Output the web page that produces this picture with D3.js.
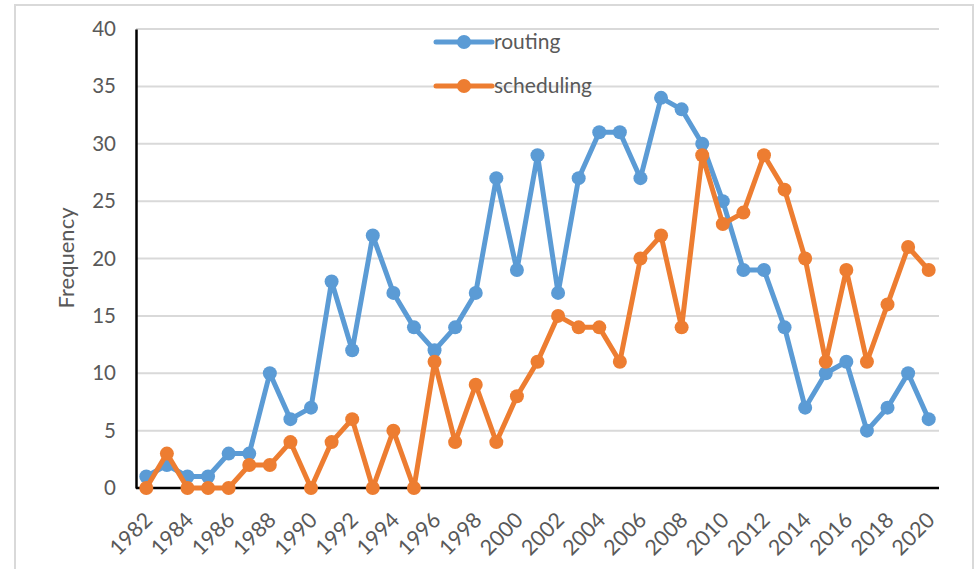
<!DOCTYPE html>
<html>
<head>
<meta charset="utf-8">
<script src="https://cdn.jsdelivr.net/npm/d3@7"></script>
<style>
  html, body { margin: 0; padding: 0; background: #fff; }
  svg { display: block; }
  text { font-family: Lato, "Open Sans", sans-serif; fill: #595959; }
</style>
</head>
<body>
<svg id="chart" width="975" height="569"></svg>
<script>
// Publications per year on routing and scheduling topics
const years = d3.range(1982, 2021);
const routing = [1, 2, 1, 1, 3, 3, 10, 6, 7, 18, 12, 22, 17, 14, 12, 14, 17, 27, 19, 29,
                 17, 27, 31, 31, 27, 34, 33, 30, 25, 19, 19, 14, 7, 10, 11, 5, 7, 10, 6];
const scheduling = [0, 3, 0, 0, 0, 2, 2, 4, 0, 4, 6, 0, 5, 0, 11, 4, 9, 4, 8, 11,
                    15, 14, 14, 11, 20, 22, 14, 29, 23, 24, 29, 26, 20, 11, 19, 11, 16, 21, 19];
const seriesNames = ["routing", "scheduling"];
const yTicks = [0, 5, 10, 15, 20, 25, 30, 35, 40];
const xTickYears = years.filter(y => (y - 1982) % 2 === 0);

const colors = ["#5B9BD5", "#ED7D31"];
const series = [routing, scheduling].map((vals, i) => ({
  name: seriesNames[i],
  color: colors[i],
  points: years.map((yr, j) => ({ year: yr, value: vals[j] }))
}));

const svg = d3.select("#chart");
const plot = { left: 136, right: 939, top: 29, bottom: 488 };

// outer chart frame
svg.append("rect")
  .attr("x", 15).attr("y", 5)
  .attr("width", 958).attr("height", 600)
  .attr("fill", "#fff")
  .attr("stroke", "#d9d9d9").attr("stroke-width", 2);

const x = d3.scaleBand().domain(years).range([plot.left, plot.right]).padding(0);
const cx = d => x(d) + x.bandwidth() / 2;
const y = d3.scaleLinear().domain([0, 40]).range([plot.bottom, plot.top]);

// horizontal gridlines
svg.append("g")
  .selectAll("line")
  .data(yTicks.filter(t => t > 0))
  .join("line")
  .attr("x1", plot.left).attr("x2", plot.right)
  .attr("y1", d => y(d)).attr("y2", d => y(d))
  .attr("stroke", "#d9d9d9").attr("stroke-width", 2);

// y axis
const yAxis = svg.append("g")
  .attr("transform", `translate(${plot.left},0)`)
  .call(d3.axisLeft(y).tickValues(yTicks).tickSize(0).tickPadding(20));
yAxis.select(".domain").attr("stroke", "#000").attr("stroke-width", 2.5);
yAxis.selectAll("text").attr("font-size", 20.5).attr("fill", "#595959")
  .style("font-family", "Lato, sans-serif");

// x axis
const xAxis = svg.append("g")
  .attr("transform", `translate(0,${plot.bottom})`)
  .call(d3.axisBottom(x).tickValues(xTickYears).tickSize(0).tickFormat(d3.format("d")));
xAxis.select(".domain").attr("stroke", "#000").attr("stroke-width", 2.5)
  .attr("d", `M${plot.left},0H${plot.right}`);
xAxis.selectAll(".tick text")
  .attr("font-size", 21.5).attr("fill", "#595959")
  .style("font-family", "Lato, sans-serif")
  .attr("text-anchor", "end")
  .attr("dy", "0.35em")
  .attr("transform", "translate(0,26) rotate(-45)");

// y axis title
svg.append("text")
  .attr("transform", "translate(74,258) rotate(-90)")
  .attr("text-anchor", "middle")
  .attr("font-size", 22)
  .text("Frequency");

// series lines and markers
const line = d3.line().x(d => cx(d.year)).y(d => y(d.value));
series.forEach(s => {
  const g = svg.append("g");
  g.append("path")
    .datum(s.points)
    .attr("fill", "none")
    .attr("stroke", s.color)
    .attr("stroke-width", 5)
    .attr("stroke-linejoin", "round")
    .attr("d", line);
  g.selectAll("circle")
    .data(s.points)
    .join("circle")
    .attr("cx", d => cx(d.year))
    .attr("cy", d => y(d.value))
    .attr("r", 7)
    .attr("fill", s.color);
});

// legend
const legend = svg.append("g").attr("transform", "translate(436,42)");
series.forEach((s, i) => {
  const row = legend.append("g").attr("transform", `translate(0,${i * 44})`);
  row.append("line").attr("x1", 0).attr("x2", 56)
    .attr("stroke", s.color).attr("stroke-width", 5).attr("stroke-linecap", "round");
  row.append("circle").attr("cx", 28).attr("r", 7).attr("fill", s.color);
  row.append("text").attr("x", 58).attr("dy", "0.35em")
    .attr("font-size", 21).text(s.name);
});
</script>
</body>
</html>
